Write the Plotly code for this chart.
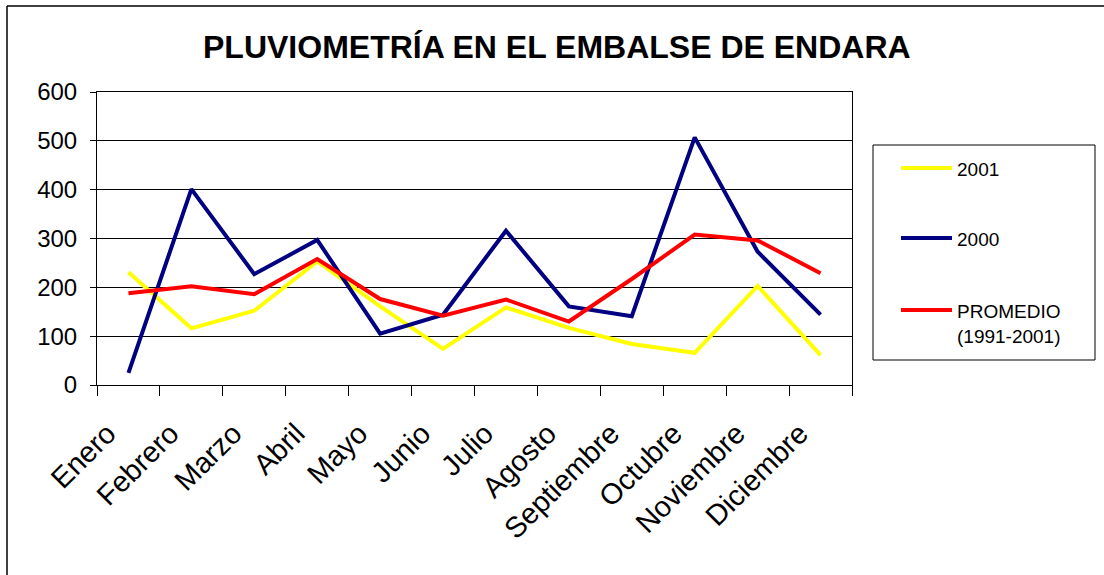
import plotly.graph_objects as go

meses = ["Enero", "Febrero", "Marzo", "Abril", "Mayo", "Junio", "Julio",
         "Agosto", "Septiembre", "Octubre", "Noviembre", "Diciembre"]
lluvia_2001 = [231, 116, 152, 253, 161, 74, 159, 117, 84, 66, 203, 61]
lluvia_2000 = [25, 401, 227, 297, 105, 144, 316, 161, 141, 507, 273, 144]
promedio = [188, 202, 186, 258, 176, 142, 175, 130, 217, 308, 296, 229]
y_ticks = [0, 100, 200, 300, 400, 500, 600]

W, H = 1104, 575
L, R, T, B = 97, 852, 92, 385


def px(x):
    return (x - L) / (R - L)


def py(y):
    return (B - y) / (B - T)


FONT = "Liberation Sans, Arial, sans-serif"
series = [
    ("2001", lluvia_2001, "#FFFF00"),
    ("2000", lluvia_2000, "#000080"),
    ("PROMEDIO<br>(1991-2001)", promedio, "#FF0000"),
]

fig = go.Figure()
for name, vals, col in series:
    fig.add_trace(go.Scatter(x=meses, y=vals, mode="lines", name=name,
                             line=dict(color=col, width=4),
                             showlegend=False))

shapes = [
    # outer chart border (top and left)
    dict(type="line", xref="paper", yref="paper", x0=px(7), x1=px(W + 5), y0=py(6), y1=py(6),
         line=dict(color="black", width=1.5)),
    dict(type="line", xref="paper", yref="paper", x0=px(7), x1=px(7), y0=py(6), y1=py(H + 5),
         line=dict(color="black", width=1.5)),
    # legend frame
    dict(type="rect", xref="paper", yref="paper", x0=px(873), x1=px(1095), y0=py(145), y1=py(360),
         line=dict(color="black", width=1), fillcolor="white"),
]
annotations = []
leg_y = [168, 238, 310]
for (name, vals, col), yy in zip(series, leg_y):
    shapes.append(dict(type="line", xref="paper", yref="paper", x0=px(901), x1=px(952),
                       y0=py(yy), y1=py(yy), line=dict(color=col, width=4)))
    annotations.append(dict(xref="paper", yref="paper", x=px(955), y=py(yy - 11),
                            xanchor="left", yanchor="top", align="left", showarrow=False,
                            text=name, font=dict(family=FONT, size=19, color="black")))

annotations.append(dict(xref="paper", yref="paper", x=px(557), y=py(47),
                        xanchor="center", yanchor="middle", showarrow=False,
                        text="<b>PLUVIOMETRÍA EN EL EMBALSE DE ENDARA</b>",
                        font=dict(family=FONT, size=32, color="black")))

fig.update_layout(
    width=W, height=H,
    margin=dict(l=L, r=W - R, t=T, b=H - B, pad=0),
    paper_bgcolor="white", plot_bgcolor="white",
    showlegend=False,
    shapes=shapes,
    annotations=annotations,
    font=dict(family=FONT, color="black"),
)
fig.update_xaxes(type="category", tickson="boundaries", ticks="outside", ticklen=10,
                 tickcolor="black", tickangle=-45, showline=True, linecolor="black",
                 linewidth=1, mirror=True, showgrid=False,
                 ticklabelstandoff=19, ticklabelshift=-21,
                 tickfont=dict(family=FONT, size=29, color="black"), range=[-0.5, 11.5])
fig.update_yaxes(range=[0, 600], tickvals=y_ticks, ticks="outside", ticklen=6,
                 tickcolor="black", showline=True, linecolor="black", linewidth=1,
                 mirror=True, showgrid=True, gridcolor="black", gridwidth=1,
                 ticklabelstandoff=8,
                 zeroline=False, tickfont=dict(family=FONT, size=24, color="black"))

fig.write_html("out.html", config={"displayModeBar": False},
               post_script="document.body.style.margin='0';")
